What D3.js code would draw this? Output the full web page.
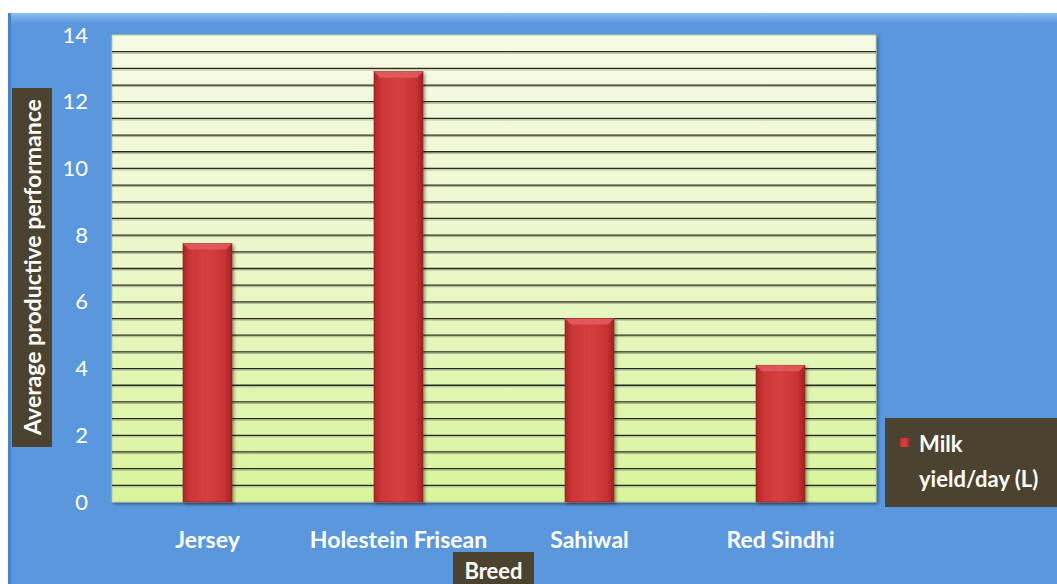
<!DOCTYPE html>
<html>
<head>
<meta charset="utf-8">
<script src="https://cdn.jsdelivr.net/npm/d3@7"></script>
<style>
  body { margin: 0; background: #fff; }
  svg text { font-family: Lato, "Open Sans", sans-serif; }
</style>
</head>
<body>
<svg id="chart" width="1057" height="584"></svg>
<script>
var breeds = ["Jersey", "Holestein Frisean", "Sahiwal", "Red Sindhi"];
var milk_yield = [7.75, 12.9, 5.5, 4.1];
var y_ticks = [0, 2, 4, 6, 8, 10, 12, 14];
var series_name = ["Milk", "yield/day (L)"];

var svg = d3.select("#chart");
var defs = svg.append("defs");

// blue background with a bevelled top edge
var bgGrad = defs.append("linearGradient").attr("id", "bg_top").attr("x1", 0).attr("y1", 0).attr("x2", 0).attr("y2", 1);
bgGrad.append("stop").attr("offset", "0").attr("stop-color", "#8cc0f4");
bgGrad.append("stop").attr("offset", "1").attr("stop-color", "#5b97dc");

var plotGrad = defs.append("linearGradient").attr("id", "plot_bg").attr("x1", 0).attr("y1", 0).attr("x2", 0).attr("y2", 1);
plotGrad.append("stop").attr("offset", "0").attr("stop-color", "#f6fae4");
plotGrad.append("stop").attr("offset", "0.5").attr("stop-color", "#eaf7c8");
plotGrad.append("stop").attr("offset", "1").attr("stop-color", "#d8f59c");

var barGrad = defs.append("linearGradient").attr("id", "bar_fill").attr("x1", 0).attr("y1", 0).attr("x2", 1).attr("y2", 0);
barGrad.append("stop").attr("offset", "0").attr("stop-color", "#ad2626");
barGrad.append("stop").attr("offset", "0.15").attr("stop-color", "#cc3636");
barGrad.append("stop").attr("offset", "0.5").attr("stop-color", "#d63f3f");
barGrad.append("stop").attr("offset", "0.85").attr("stop-color", "#c83333");
barGrad.append("stop").attr("offset", "1").attr("stop-color", "#a02222");

var shadow = defs.append("filter").attr("id", "shadow").attr("x", "-10%").attr("y", "-10%").attr("width", "130%").attr("height", "130%");
shadow.append("feDropShadow").attr("dx", 2).attr("dy", 2).attr("stdDeviation", 1.5).attr("flood-color", "#000").attr("flood-opacity", 0.35);

svg.append("rect").attr("x", 8).attr("y", 13).attr("width", 1049).attr("height", 571).attr("fill", "#5b97dc");
svg.append("rect").attr("x", 8).attr("y", 13).attr("width", 1049).attr("height", 10).attr("fill", "url(#bg_top)");
svg.append("rect").attr("x", 8).attr("y", 13).attr("width", 3).attr("height", 571).attr("fill", "#4a82c8");

var plotLeft = 112, plotRight = 876, plotTop = 35, plotBottom = 502;

var x = d3.scaleBand().domain(breeds).range([plotLeft, plotRight]).paddingInner(0).paddingOuter(0);
var y = d3.scaleLinear().domain([0, 14]).range([plotBottom, plotTop]);

svg.append("rect")
    .attr("x", plotLeft).attr("y", plotTop)
    .attr("width", plotRight - plotLeft).attr("height", plotBottom - plotTop)
    .attr("fill", "url(#plot_bg)")
    .attr("stroke", "#b8cc98").attr("stroke-width", 1)
    .attr("filter", "url(#shadow)");

// gridlines every 0.5 with a light line underneath
var grid = d3.range(0.5, 14, 0.5);
svg.selectAll(".grid_light").data(grid).enter().append("line")
    .attr("x1", plotLeft).attr("x2", plotRight)
    .attr("y1", function(d) { return y(d) + 1.5; })
    .attr("y2", function(d) { return y(d) + 1.5; })
    .attr("stroke", "#a9b38e").attr("stroke-width", 1);
svg.selectAll(".grid").data(grid).enter().append("line")
    .attr("x1", plotLeft).attr("x2", plotRight)
    .attr("y1", function(d) { return y(d); })
    .attr("y2", function(d) { return y(d); })
    .attr("stroke", "#2c2a20").attr("stroke-width", 1.3);

// bars
var barW = 49;
svg.selectAll(".bar").data(milk_yield).enter().append("rect")
    .attr("class", "bar")
    .attr("x", function(d, i) { return x(breeds[i]) + x.bandwidth() / 2 - barW / 2; })
    .attr("y", function(d) { return y(d); })
    .attr("width", barW)
    .attr("height", function(d) { return y(0) - y(d); })
    .attr("fill", "url(#bar_fill)")
    .attr("stroke", "#8a1f1f").attr("stroke-width", 0.6)
    .attr("filter", "url(#shadow)");
// bevel highlight at top of bars
svg.selectAll(".bevel").data(milk_yield).enter().append("path")
    .attr("d", function(d, i) {
        var x0 = x(breeds[i]) + x.bandwidth() / 2 - barW / 2, y0 = y(d);
        return "M" + x0 + "," + y0 + " L" + (x0 + barW) + "," + y0 +
            " L" + (x0 + barW - 6) + "," + (y0 + 6) + " L" + (x0 + 6) + "," + (y0 + 6) + "Z";
    })
    .attr("fill", "#e36060").attr("opacity", 0.8);

// y axis labels
var yAxis = d3.axisLeft(y).tickValues(y_ticks).tickSize(0).tickPadding(24);
var yg = svg.append("g").attr("transform", "translate(" + plotLeft + ",0)").call(yAxis);
yg.select(".domain").remove();
yg.selectAll("text").attr("fill", "#fff").attr("font-size", 22).attr("font-family", "Lato, sans-serif");

// x axis labels
var xAxis = d3.axisBottom(x).tickSize(0).tickPadding(30);
var xg = svg.append("g").attr("transform", "translate(0," + plotBottom + ")").call(xAxis);
xg.select(".domain").remove();
xg.selectAll("text").attr("fill", "#fff").attr("font-size", 23).attr("font-weight", "bold").attr("font-family", "Lato, sans-serif");

// y title
svg.append("rect").attr("x", 12).attr("y", 88).attr("width", 40).attr("height", 359).attr("fill", "#4b4330");
svg.append("text")
    .attr("transform", "translate(41,267) rotate(-90)")
    .attr("text-anchor", "middle")
    .attr("fill", "#fff").attr("font-size", 23).attr("font-weight", "bold")
    .text("Average productive performance");

// x title
svg.append("rect").attr("x", 453).attr("y", 552).attr("width", 81).attr("height", 40).attr("fill", "#4b4330");
svg.append("text")
    .attr("x", 493.5).attr("y", 579)
    .attr("text-anchor", "middle")
    .attr("fill", "#fff").attr("font-size", 22).attr("font-weight", "bold")
    .text("Breed");

// legend
var lg = svg.append("g");
lg.append("rect").attr("x", 885).attr("y", 418).attr("width", 180).attr("height", 89).attr("fill", "#4b4330");
lg.append("rect").attr("x", 900).attr("y", 438).attr("width", 9).attr("height", 9).attr("fill", "url(#bar_fill)");
lg.selectAll(".legend_text").data(series_name).enter().append("text")
    .attr("x", 919)
    .attr("y", function(d, i) { return 452 + i * 35; })
    .attr("fill", "#fff").attr("font-size", 22).attr("font-weight", "bold")
    .text(function(d) { return d; });
</script>
</body>
</html>
